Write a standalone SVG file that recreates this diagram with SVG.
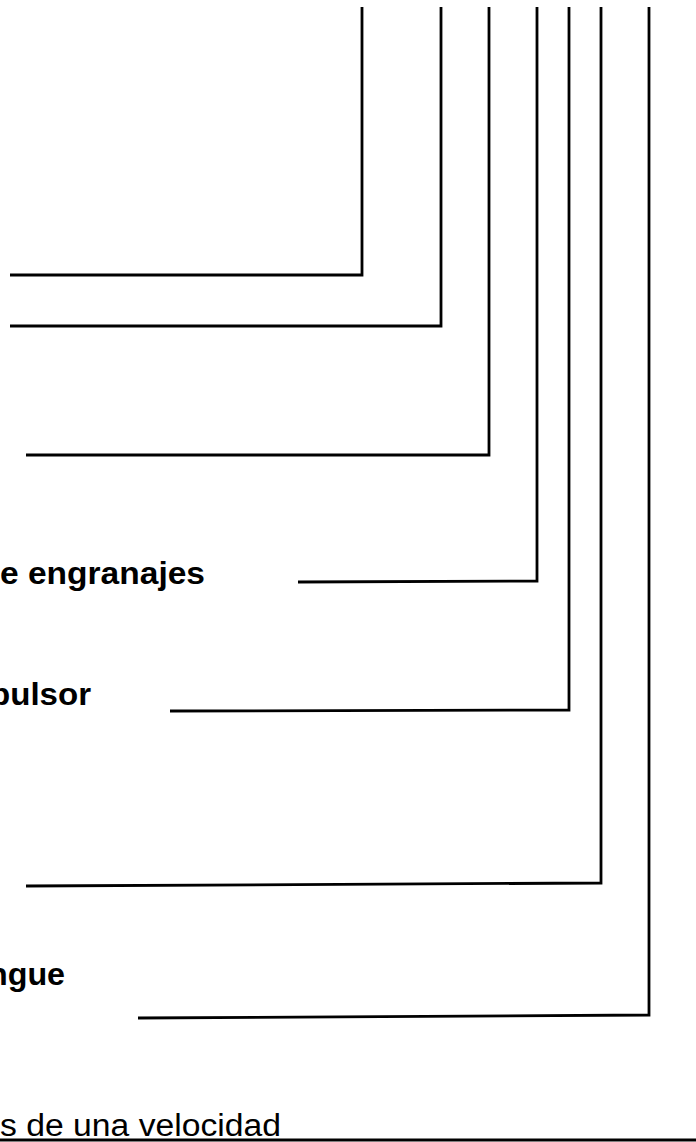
<svg xmlns="http://www.w3.org/2000/svg" width="696" height="1142" viewBox="0 0 696 1142">
  <style>
    .ln { fill: none; stroke: #000; stroke-width: 2.8; stroke-linejoin: miter; stroke-linecap: butt; }
    .lb { font-family: "Liberation Sans", Arial, sans-serif; font-size: 32px; font-weight: bold; fill: #000; }
    .lr { font-family: "Liberation Sans", Arial, sans-serif; font-size: 31px; fill: #000; }
  </style>
  <rect x="0" y="0" width="696" height="1142" fill="#fff"/>
  <g id="connectors">
    <polyline class="ln" points="362,7 362,275 10,275"/>
    <polyline class="ln" points="441,7 441,326 10,326"/>
    <polyline class="ln" points="489,7 489,455 26,455"/>
    <polyline class="ln" points="537,7 537,581 298,582"/>
    <polyline class="ln" points="569,7 569,710 170,711"/>
    <polyline class="ln" points="601,7 601,883 26,886"/>
    <polyline class="ln" points="649,7 649,1015 138,1018"/>
    <line class="ln" x1="0" y1="1140" x2="696" y2="1140"/>
  </g>
  <g id="node-engranajes">
    <text class="lb" x="0" y="584" textLength="205" lengthAdjust="spacingAndGlyphs">e engranajes</text>
  </g>
  <g id="node-pulsor">
    <text class="lb" x="-10" y="705" textLength="101" lengthAdjust="spacingAndGlyphs">pulsor</text>
  </g>
  <g id="node-ngue">
    <text class="lb" x="-12" y="985" textLength="77" lengthAdjust="spacingAndGlyphs">ngue</text>
  </g>
  <g id="node-velocidad">
    <text class="lr" x="0" y="1136" textLength="281" lengthAdjust="spacingAndGlyphs">s de una velocidad</text>
  </g>
</svg>
